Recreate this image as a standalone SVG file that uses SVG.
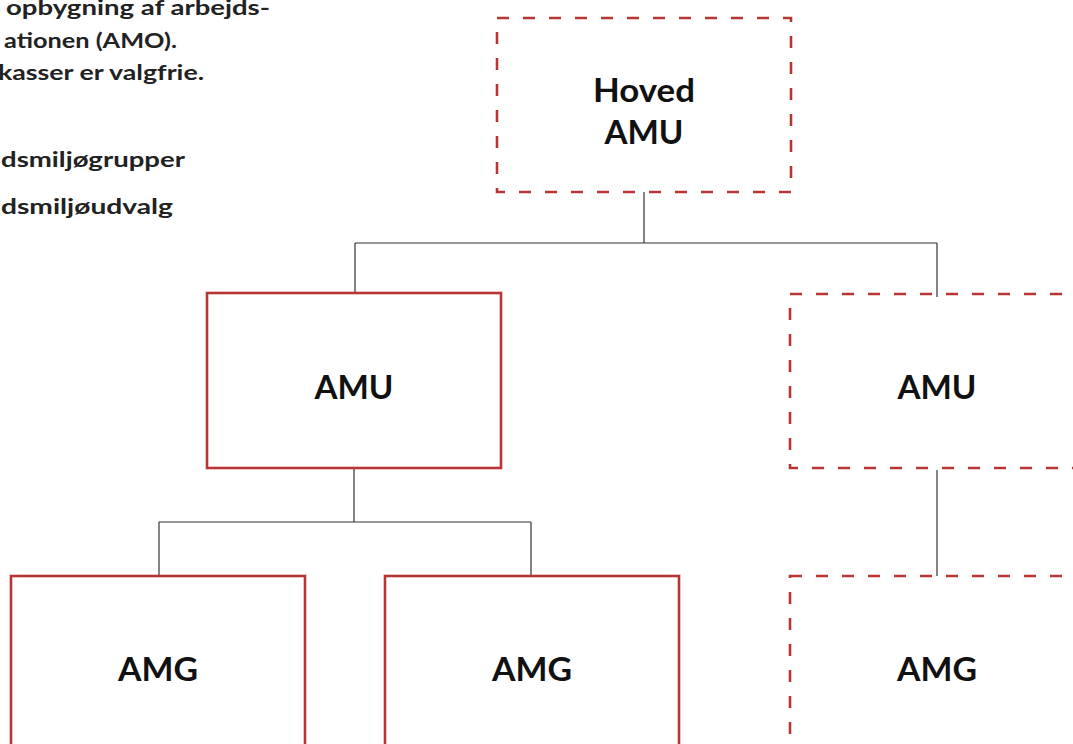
<svg xmlns="http://www.w3.org/2000/svg" width="1073" height="744" viewBox="0 0 1073 744">
<style>
.bg{fill:#ffffff}
.box{fill:none;stroke:#b83535;stroke-width:2.6}
.dash{stroke-dasharray:12 14}
.lbl{font-family:Lato,"Open Sans",sans-serif;font-weight:700;font-size:33px;fill:#111;text-anchor:middle}
.note{font-family:Lato,"Open Sans",sans-serif;font-weight:700;font-size:21px;fill:#222}
.conn{fill:none;stroke:#333;stroke-width:1.2}
</style>
<rect class="bg" x="0" y="0" width="1073" height="744"/>
<g id="notes">
<text class="note" x="6" y="15" textLength="264" lengthAdjust="spacingAndGlyphs">opbygning af arbejds-</text>
<text class="note" x="4" y="48" textLength="173" lengthAdjust="spacingAndGlyphs">ationen (AMO).</text>
<text class="note" x="-2" y="80" textLength="206" lengthAdjust="spacingAndGlyphs">kasser er valgfrie.</text>
<text class="note" x="1" y="167" textLength="184" lengthAdjust="spacingAndGlyphs">dsmiljøgrupper</text>
<text class="note" x="1" y="214" textLength="172" lengthAdjust="spacingAndGlyphs">dsmiljøudvalg</text>
</g>
<g id="connectors">
<path class="conn" d="M644 192V243M355 243H937M355 243V293M937 243V297"/>
<path class="conn" d="M354 468V522M159 522H531M159 522V576M531 522V576"/>
<path class="conn" d="M937 470V576"/>
</g>
<g id="hoved-amu">
<rect class="box dash" x="497" y="18" width="294" height="174"/>
<text class="lbl" x="644" y="102" textLength="102" lengthAdjust="spacingAndGlyphs">Hoved</text>
<text class="lbl" x="644" y="144" textLength="79" lengthAdjust="spacingAndGlyphs">AMU</text>
</g>
<g id="amu-left">
<rect class="box" x="207" y="293" width="294" height="175"/>
<text class="lbl" x="354" y="399" textLength="79" lengthAdjust="spacingAndGlyphs">AMU</text>
</g>
<g id="amu-right">
<rect class="box dash" x="790" y="294" width="294" height="174"/>
<text class="lbl" x="937" y="399" textLength="79" lengthAdjust="spacingAndGlyphs">AMU</text>
</g>
<g id="amg-1">
<rect class="box" x="11" y="576" width="294" height="175"/>
<text class="lbl" x="158" y="681" textLength="80" lengthAdjust="spacingAndGlyphs">AMG</text>
</g>
<g id="amg-2">
<rect class="box" x="385" y="576" width="294" height="175"/>
<text class="lbl" x="532" y="681" textLength="80" lengthAdjust="spacingAndGlyphs">AMG</text>
</g>
<g id="amg-3">
<rect class="box dash" x="790" y="576" width="294" height="175"/>
<text class="lbl" x="937" y="681" textLength="80" lengthAdjust="spacingAndGlyphs">AMG</text>
</g>
</svg>
